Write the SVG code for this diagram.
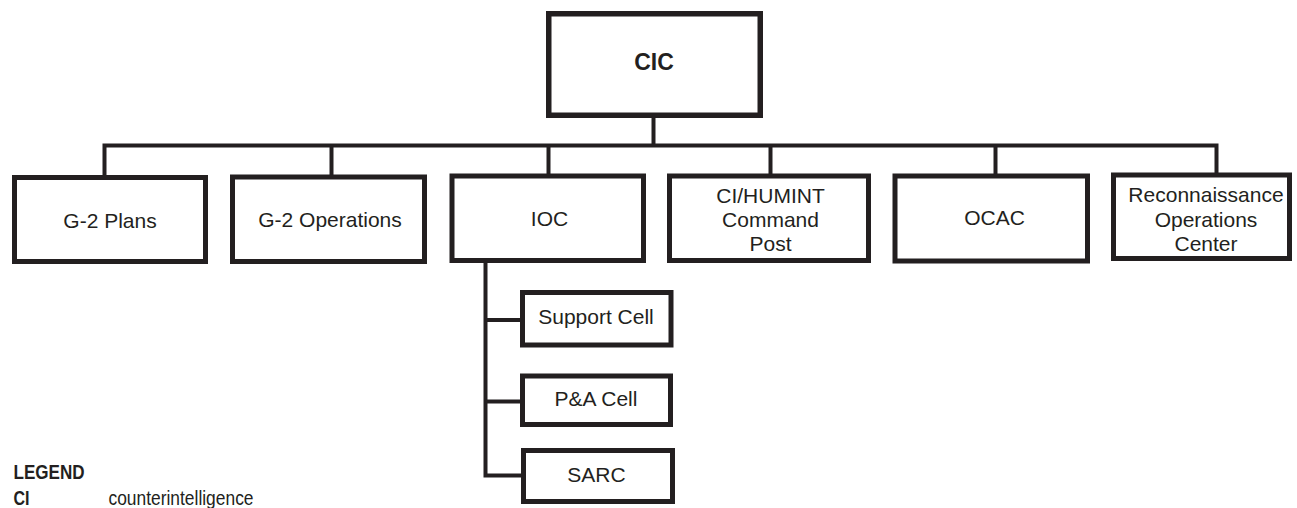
<svg xmlns="http://www.w3.org/2000/svg" width="1297" height="508" viewBox="0 0 1297 508">
  <style>
    .box { fill: #ffffff; stroke: #231f20; stroke-width: 5; }
    .top { fill: #ffffff; stroke: #231f20; stroke-width: 5.5; }
    .wire { fill: none; stroke: #231f20; stroke-width: 4; stroke-linejoin: miter; }
    .lbl { font-family: "Liberation Sans", Arial, sans-serif; font-size: 21px; fill: #231f20; text-anchor: middle; }
    .head { font-family: "Liberation Sans", Arial, sans-serif; font-size: 23px; font-weight: bold; fill: #231f20; text-anchor: middle; }
    .leg { font-family: "Liberation Sans", Arial, sans-serif; font-size: 21px; fill: #231f20; }
    .legb { font-weight: bold; }
  </style>

  <!-- connectors -->
  <g id="connectors">
    <path class="wire" d="M653.5 118 V145.5"/>
    <path class="wire" d="M104.5 176 V145.5 H1216.5 V173"/>
    <path class="wire" d="M331.5 145.5 V175"/>
    <path class="wire" d="M548.5 145.5 V174"/>
    <path class="wire" d="M770.5 145.5 V174"/>
    <path class="wire" d="M995.5 145.5 V174"/>
    <path class="wire" d="M485.5 263 V475.5 H522"/>
    <path class="wire" d="M485.5 320 H521"/>
    <path class="wire" d="M485.5 401.5 H521"/>
  </g>

  <g id="cic">
    <rect class="top" x="548.75" y="13.75" width="211.5" height="101.5"/>
    <text class="head" x="654" y="70">CIC</text>
  </g>

  <g id="g2-plans">
    <rect class="box" x="14.5" y="177.5" width="191" height="84"/>
    <text class="lbl" x="110" y="228">G-2 Plans</text>
  </g>

  <g id="g2-operations">
    <rect class="box" x="232.5" y="177" width="192" height="84.5"/>
    <text class="lbl" x="330" y="227">G-2 Operations</text>
  </g>

  <g id="ioc">
    <rect class="box" x="452" y="176" width="191.5" height="84.5"/>
    <text class="lbl" x="549.5" y="226">IOC</text>
  </g>

  <g id="ci-humint">
    <rect class="box" x="669.5" y="176" width="199" height="84.5"/>
    <text class="lbl" x="770.5" y="202.5">CI/HUMINT</text>
    <text class="lbl" x="770.5" y="226.5">Command</text>
    <text class="lbl" x="770.5" y="250.5">Post</text>
  </g>

  <g id="ocac">
    <rect class="box" x="895" y="176" width="192.5" height="85"/>
    <text class="lbl" x="994.5" y="224.5">OCAC</text>
  </g>

  <g id="recon-ops-center">
    <rect class="box" x="1113.5" y="175" width="176" height="83.5"/>
    <text class="lbl" x="1206" y="201.5">Reconnaissance</text>
    <text class="lbl" x="1206" y="226.5">Operations</text>
    <text class="lbl" x="1206" y="250.5">Center</text>
  </g>

  <g id="support-cell">
    <rect class="box" x="522.5" y="292.5" width="148.5" height="52.5"/>
    <text class="lbl" x="596" y="324">Support Cell</text>
  </g>

  <g id="pa-cell">
    <rect class="box" x="522.5" y="376" width="148" height="48.5"/>
    <text class="lbl" x="596" y="405.5">P&amp;A Cell</text>
  </g>

  <g id="sarc">
    <rect class="box" x="523.5" y="450.5" width="149" height="51"/>
    <text class="lbl" x="596.5" y="481.5">SARC</text>
  </g>

  <!-- legend -->
  <g id="legend">
    <text class="leg legb" x="13.5" y="478.5" textLength="71" lengthAdjust="spacingAndGlyphs">LEGEND</text>
    <text class="leg legb" x="13.5" y="505" textLength="16" lengthAdjust="spacingAndGlyphs">CI</text>
    <text class="leg" x="108.5" y="505" textLength="145" lengthAdjust="spacingAndGlyphs">counterintelligence</text>
  </g>
</svg>
